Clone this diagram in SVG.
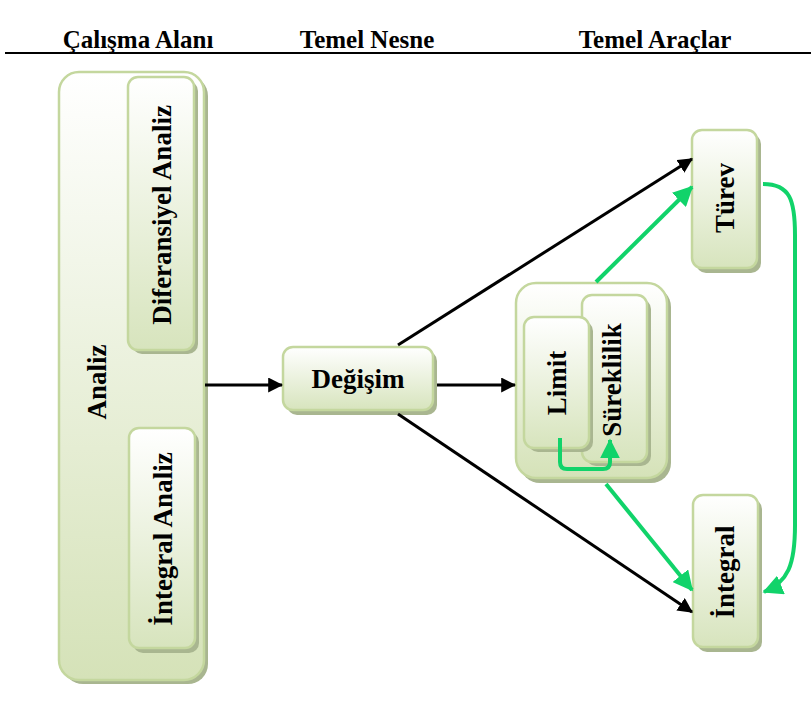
<svg xmlns="http://www.w3.org/2000/svg" width="811" height="702" viewBox="0 0 811 702">
<defs>
<linearGradient id="g" x1="0" y1="0" x2="0" y2="1">
<stop offset="0" stop-color="#ffffff"/>
<stop offset="1" stop-color="#d7e4bd"/>
</linearGradient>
<linearGradient id="go" x1="0" y1="0" x2="0" y2="1">
<stop offset="0" stop-color="#ffffff"/>
<stop offset="1" stop-color="#d5e2b8"/>
</linearGradient>
<marker id="ab" markerWidth="5" markerHeight="5" refX="4.6" refY="2.5" orient="auto" markerUnits="strokeWidth">
<path d="M0,0 L5,2.5 L0,5 Z" fill="#000"/>
</marker>
<marker id="ag" markerWidth="5" markerHeight="5" refX="4.6" refY="2.5" orient="auto" markerUnits="strokeWidth">
<path d="M0,0 L5,2.5 L0,5 Z" fill="#11d36a"/>
</marker>
</defs>
<style>
.hd{font-family:"Liberation Serif","Times New Roman",serif;font-weight:bold;font-size:25px;fill:#000;text-anchor:middle}
.t{font-family:"Liberation Serif","Times New Roman",serif;font-weight:bold;font-size:27px;fill:#000;text-anchor:middle}
.sh{fill:#a9b690}
.bx{fill:url(#g);stroke:#c4d79e;stroke-width:2.5}
.bo{fill:url(#go);stroke:#c4d79e;stroke-width:2.5}
.bk{fill:none;stroke:#000;stroke-width:3;marker-end:url(#ab)}
.gr{fill:none;stroke:#11d36a;stroke-width:4;marker-end:url(#ag)}
</style>
<rect width="811" height="702" fill="#fff"/>
<g id="header">
<text class="hd" x="138" y="48">Çalışma Alanı</text>
<text class="hd" x="367" y="48">Temel Nesne</text>
<text class="hd" x="655" y="48">Temel Araçlar</text>
<line x1="5" y1="53" x2="811" y2="53" stroke="#000" stroke-width="2"/>
</g>
<g id="analiz">
<rect class="sh" x="63" y="76" width="145" height="608" rx="20"/>
<rect class="bo" x="59" y="72" width="145" height="608" rx="20"/>
<text class="t" transform="translate(96 382) rotate(-90)" y="9.5">Analiz</text>
</g>
<g id="diferansiyel">
<rect class="sh" x="132" y="81" width="66" height="273" rx="10"/>
<rect class="bx" x="128" y="77" width="66" height="273" rx="10"/>
<text class="t" transform="translate(161 215) rotate(-90)" y="9.5">Diferansiyel Analiz</text>
</g>
<g id="integral-analiz">
<rect class="sh" x="133" y="432" width="66" height="221" rx="10"/>
<rect class="bx" x="129" y="428" width="66" height="220" rx="10"/>
<text class="t" transform="translate(162 539) rotate(-90)" y="9.5">İntegral Analiz</text>
</g>
<g id="degisim">
<rect class="sh" x="287" y="351" width="150" height="64" rx="10"/>
<rect class="bx" x="283" y="347" width="150" height="63" rx="10"/>
<text class="t" x="358" y="388">Değişim</text>
</g>
<g id="limit-grup">
<rect class="sh" x="520" y="287" width="151" height="196" rx="20"/>
<rect class="bo" x="516" y="283" width="151" height="195" rx="20"/>
</g>
<g id="sureklilik">
<rect class="sh" x="586" y="299" width="65" height="167" rx="10"/>
<rect class="bx" x="582" y="295" width="65" height="167" rx="10"/>
<text class="t" transform="translate(611 380) rotate(-90)" y="9.5">Süreklilik</text>
</g>
<g id="limit">
<rect class="sh" x="528" y="321" width="65" height="131" rx="10"/>
<rect class="bx" x="524" y="317" width="65" height="131" rx="10"/>
<text class="t" transform="translate(556 383) rotate(-90)" y="9.5">Limit</text>
</g>
<g id="turev">
<rect class="sh" x="696" y="134" width="65" height="139" rx="10"/>
<rect class="bx" x="692" y="130" width="65" height="138" rx="10"/>
<text class="t" transform="translate(724 198) rotate(-90)" y="9.5">Türev</text>
</g>
<g id="integral">
<rect class="sh" x="697" y="499" width="65" height="153" rx="10"/>
<rect class="bx" x="693" y="495" width="65" height="152" rx="10"/>
<text class="t" transform="translate(724 572) rotate(-90)" y="9.5">İntegral</text>
</g>
<g id="connectors">
<line class="bk" x1="205" y1="385" x2="282" y2="385"/>
<line class="bk" x1="437" y1="385" x2="515" y2="385"/>
<line class="bk" x1="398" y1="345" x2="692" y2="159"/>
<line class="bk" x1="398" y1="414" x2="692" y2="612"/>
<line class="gr" x1="596" y1="282" x2="692" y2="187"/>
<line class="gr" x1="606" y1="484" x2="692" y2="590"/>
<path class="gr" d="M560,438 L560,462 Q560,469 567,469 L603,469 Q610,469 610,462 L610,440"/>
<path class="gr" d="M763,184 C790,184 795,200 795,235 L795,525 C795,565 788,582 764,592"/>
</g>
</svg>
